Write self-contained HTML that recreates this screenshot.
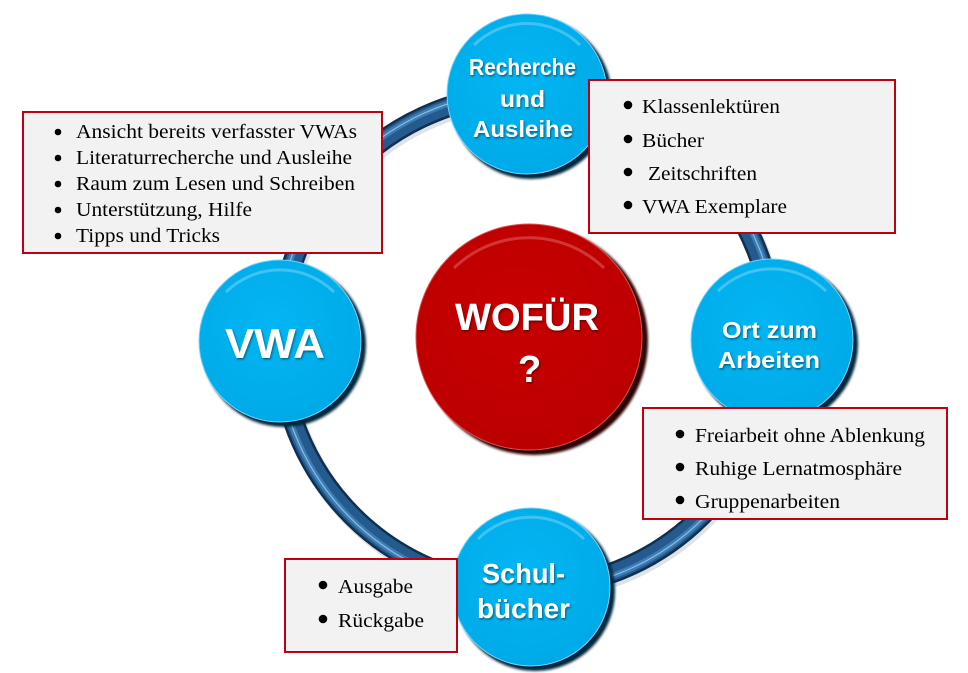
<!DOCTYPE html>
<html><head><meta charset="utf-8"><style>
html,body{margin:0;padding:0;background:#fff;}
svg{display:block;}
.bx{font-family:"Liberation Serif",serif;font-size:20px;fill:#000;}
.wt{font-family:"Liberation Sans",sans-serif;font-weight:bold;fill:#fff;}
</style></head><body>
<svg width="968" height="673" viewBox="0 0 968 673" xmlns="http://www.w3.org/2000/svg">
<defs>
<filter id="ts" x="-20%" y="-20%" width="140%" height="140%"><feDropShadow dx="1" dy="1.5" stdDeviation="1" flood-color="#000" flood-opacity="0.45"/></filter>
<filter id="bl" x="-20%" y="-20%" width="140%" height="140%"><feGaussianBlur stdDeviation="1.2"/></filter>
<radialGradient id="bg" cx="45%" cy="40%" r="60%"><stop offset="0" stop-color="#03b6f3"/><stop offset="1" stop-color="#00aae8"/></radialGradient>
<radialGradient id="rg" cx="45%" cy="40%" r="60%"><stop offset="0" stop-color="#c80000"/><stop offset="1" stop-color="#bb0000"/></radialGradient>
</defs>

<!-- ring -->
<circle cx="527" cy="341" r="247" fill="none" stroke="#bfc6cf" stroke-width="22" opacity="0.5" transform="translate(2,3)"/>
<circle cx="527" cy="341" r="247" fill="none" stroke="#10304e" stroke-width="21"/>
<circle cx="527" cy="341" r="247" fill="none" stroke="#245a8d" stroke-width="16"/>
<circle cx="527" cy="341" r="250" fill="none" stroke="#3d7bb3" stroke-width="6"/>
<circle cx="527" cy="341" r="250" fill="none" stroke="#a8daf6" stroke-width="1.2" opacity="0.7"/>

<!-- blue nodes -->
<g>
<circle cx="531" cy="98" r="81" fill="#06263d" filter="url(#bl)"/>
<circle cx="527" cy="94" r="80" fill="url(#bg)" stroke="#6fd6ff" stroke-width="1"/>
<path d="M 474 45 A 76 76 0 0 1 580 45" fill="none" stroke="#fff" stroke-opacity="0.25" stroke-width="3"/>
</g>
<g>
<circle cx="284" cy="345" r="82" fill="#06263d" filter="url(#bl)"/>
<circle cx="280" cy="341" r="81" fill="url(#bg)" stroke="#6fd6ff" stroke-width="1"/>
<path d="M 226 292 A 77 77 0 0 1 334 292" fill="none" stroke="#fff" stroke-opacity="0.25" stroke-width="3"/>
</g>
<g>
<circle cx="776" cy="344" r="82" fill="#06263d" filter="url(#bl)"/>
<circle cx="772" cy="340" r="81" fill="url(#bg)" stroke="#6fd6ff" stroke-width="1"/>
<path d="M 718 291 A 77 77 0 0 1 826 291" fill="none" stroke="#fff" stroke-opacity="0.25" stroke-width="3"/>
</g>
<g>
<circle cx="535" cy="591" r="80" fill="#06263d" filter="url(#bl)"/>
<circle cx="531" cy="587" r="79" fill="url(#bg)" stroke="#6fd6ff" stroke-width="1"/>
<path d="M 478 539 A 75 75 0 0 1 584 539" fill="none" stroke="#fff" stroke-opacity="0.25" stroke-width="3"/>
</g>

<!-- red node -->
<circle cx="534" cy="341" r="114" fill="#2a0000" filter="url(#bl)"/>
<circle cx="529" cy="337" r="113" fill="url(#rg)" stroke="#e05050" stroke-width="1"/>
<path d="M 454 268 A 108 108 0 0 1 604 268" fill="none" stroke="#ffb0b0" stroke-opacity="0.3" stroke-width="3"/>

<!-- node labels -->
<g class="wt" filter="url(#ts)" text-anchor="start">
<text x="469" y="75" font-size="23" textLength="107" lengthAdjust="spacingAndGlyphs">Recherche</text>
<text x="500" y="107" font-size="23" textLength="45" lengthAdjust="spacingAndGlyphs">und</text>
<text x="473" y="137" font-size="23" textLength="100" lengthAdjust="spacingAndGlyphs">Ausleihe</text>
<text x="225" y="358" font-size="42" textLength="100" lengthAdjust="spacingAndGlyphs">VWA</text>
<text x="455" y="330" font-size="38" textLength="144" lengthAdjust="spacingAndGlyphs">WOFÜR</text>
<text x="518" y="382" font-size="38">?</text>
<text x="722" y="338" font-size="23" textLength="95" lengthAdjust="spacingAndGlyphs">Ort zum</text>
<text x="718" y="368" font-size="23" textLength="102" lengthAdjust="spacingAndGlyphs">Arbeiten</text>
<text x="482" y="583" font-size="28" textLength="83" lengthAdjust="spacingAndGlyphs">Schul-</text>
<text x="477" y="618" font-size="28" textLength="93" lengthAdjust="spacingAndGlyphs">bücher</text>
</g>

<!-- box 1 -->
<rect x="23" y="112" width="359" height="141" fill="#f2f2f2" stroke="#c00010" stroke-width="2"/>
<g fill="#000">
<circle cx="58" cy="132" r="3.3"/><circle cx="58" cy="158" r="3.3"/><circle cx="58" cy="184" r="3.3"/><circle cx="58" cy="210" r="3.3"/><circle cx="58" cy="236" r="3.3"/>
</g>
<g class="bx">
<text x="76" y="138" textLength="281" lengthAdjust="spacingAndGlyphs">Ansicht bereits verfasster VWAs</text>
<text x="76" y="164" textLength="276" lengthAdjust="spacingAndGlyphs">Literaturrecherche und Ausleihe</text>
<text x="76" y="190" textLength="279" lengthAdjust="spacingAndGlyphs">Raum zum Lesen und Schreiben</text>
<text x="76" y="216" textLength="176" lengthAdjust="spacingAndGlyphs">Unterstützung, Hilfe</text>
<text x="76" y="242" textLength="144" lengthAdjust="spacingAndGlyphs">Tipps und Tricks</text>
</g>

<!-- box 2 -->
<rect x="589" y="80" width="306" height="153" fill="#f2f2f2" stroke="#c00010" stroke-width="2"/>
<g fill="#000">
<circle cx="628" cy="105" r="4.3"/><circle cx="628" cy="139" r="4.3"/><circle cx="628" cy="172" r="4.3"/><circle cx="628" cy="205" r="4.3"/>
</g>
<g class="bx">
<text x="642" y="113" textLength="138" lengthAdjust="spacingAndGlyphs">Klassenlektüren</text>
<text x="642" y="147" textLength="62" lengthAdjust="spacingAndGlyphs">Bücher</text>
<text x="648" y="180" textLength="109" lengthAdjust="spacingAndGlyphs">Zeitschriften</text>
<text x="642" y="213" textLength="145" lengthAdjust="spacingAndGlyphs">VWA Exemplare</text>
</g>

<!-- box 3 -->
<rect x="643" y="408" width="304" height="111" fill="#f2f2f2" stroke="#c00010" stroke-width="2"/>
<g fill="#000">
<circle cx="680" cy="434" r="4.3"/><circle cx="680" cy="467" r="4.3"/><circle cx="680" cy="500" r="4.3"/>
</g>
<g class="bx">
<text x="695" y="442" textLength="230" lengthAdjust="spacingAndGlyphs">Freiarbeit ohne Ablenkung</text>
<text x="695" y="475" textLength="207" lengthAdjust="spacingAndGlyphs">Ruhige Lernatmosphäre</text>
<text x="695" y="508" textLength="145" lengthAdjust="spacingAndGlyphs">Gruppenarbeiten</text>
</g>

<!-- box 4 -->
<rect x="285" y="559" width="172" height="93" fill="#f2f2f2" stroke="#c00010" stroke-width="2"/>
<g fill="#000">
<circle cx="323" cy="585" r="4.3"/><circle cx="323" cy="619" r="4.3"/>
</g>
<g class="bx">
<text x="338" y="593" textLength="75" lengthAdjust="spacingAndGlyphs">Ausgabe</text>
<text x="338" y="627" textLength="86" lengthAdjust="spacingAndGlyphs">Rückgabe</text>
</g>
</svg>
</body></html>
